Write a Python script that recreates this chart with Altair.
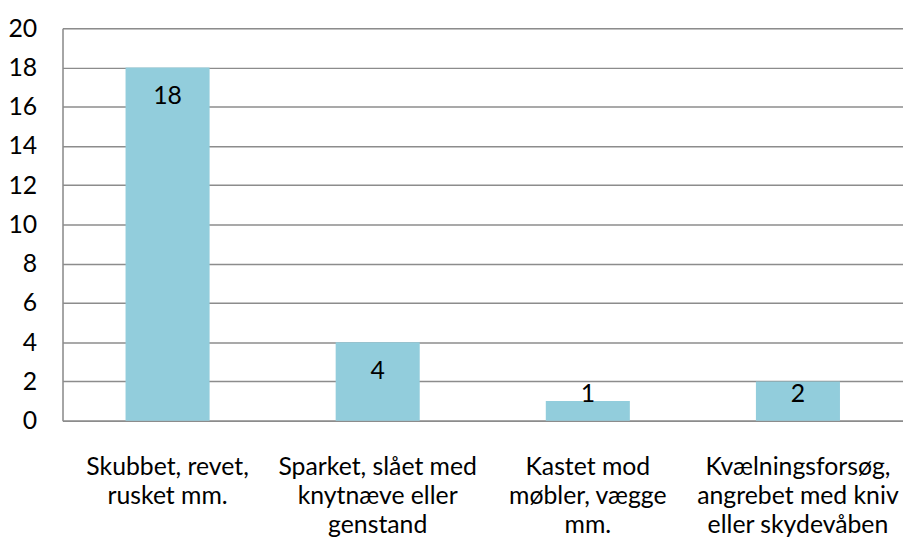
import altair as alt
import pandas as pd

categories = [
    "Skubbet, revet,|rusket mm.",
    "Sparket, slået med|knytnæve eller|genstand",
    "Kastet mod|møbler, vægge|mm.",
    "Kvælningsforsøg,|angrebet med kniv|eller skydevåben",
]
values = [18, 4, 1, 2]
y_ticks = [0, 2, 4, 6, 8, 10, 12, 14, 16, 18, 20]

df = pd.DataFrame({"cat": categories, "val": values})

FONT = "Lato"
FS = 25

x_axis = alt.Axis(
    labelExpr="split(datum.label, '|')",
    labelAngle=0,
    labelFont=FONT,
    labelFontSize=FS,
    labelColor="black",
    labelLineHeight=29.5,
    labelBaseline="top",
    labelPadding=34,
    ticks=False,
    domainColor="#8c8c8c",
    domainWidth=1.5,
    grid=False,
    labelLimit=300,
    labelOverlap=False,
)
x_scale = alt.Scale(paddingInner=0.6, paddingOuter=0.3)

y_axis = alt.Axis(
    values=y_ticks,
    labelFont=FONT,
    labelFontSize=FS,
    labelColor="black",
    labelPadding=26,
    labelOverlap=False,
    ticks=False,
    domainColor="#8c8c8c",
    domainWidth=1.5,
    gridColor="#8c8c8c",
    gridWidth=1.5,
)
y_scale = alt.Scale(domain=[0, 20])

bars = alt.Chart(df).mark_bar(color="#92CDDC").encode(
    x=alt.X("cat:N", sort=categories, title=None, scale=x_scale, axis=x_axis),
    y=alt.Y("val:Q", title=None, scale=y_scale, axis=y_axis),
)

labels = (
    alt.Chart(df)
    .transform_calculate(pos="max(datum.val - 1.46, 1.36)")
    .mark_text(font=FONT, fontSize=FS, color="black", baseline="middle", align="center")
    .encode(
        x=alt.X("cat:N", sort=categories, title=None, scale=x_scale, axis=x_axis),
        y=alt.Y("pos:Q", title=None, scale=y_scale, axis=y_axis),
        text=alt.Text("val:Q"),
    )
)

chart = (
    alt.layer(bars, labels)
    .properties(
        width=848,
        height=396,
        autosize=alt.AutoSizeParams(type="none"),
        padding={"left": 55, "top": 18, "right": 0, "bottom": 125},
    )
    .configure_view(stroke=None)
    .configure(background="white")
)

chart.save("out.html", embed_options={"renderer": "svg", "actions": False})
